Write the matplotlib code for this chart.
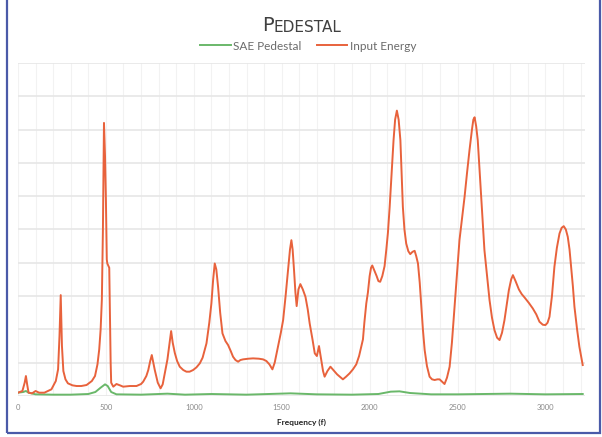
import numpy as np
import matplotlib
matplotlib.use('Agg')
import matplotlib.pyplot as plt
from matplotlib.patches import Rectangle

# ..::Dados::.. (unidades arbitrarias no eixo y)
freqEnergia = [0, 25, 38, 45, 52, 60, 80, 100, 120, 150, 190, 215, 228, 236, 243, 250, 258, 270, 284,
               310, 333, 360, 390, 420, 438, 452, 462, 470, 477, 483, 489, 495, 500, 505, 508, 515, 519,
               523, 527, 530, 542, 560, 580, 598, 636, 674, 700, 712, 730, 741, 752, 761, 770, 778, 795,
               811, 823, 835, 850, 862, 871, 880, 892, 905, 920, 940, 958, 976, 996, 1015, 1034, 1050,
               1072, 1088, 1100, 1110, 1119, 1128, 1138, 1150, 1163, 1180, 1195, 1210, 1223, 1237, 1252,
               1265, 1280, 1310, 1337, 1370, 1394, 1413, 1430, 1447, 1460, 1479, 1495, 1508, 1522, 1536,
               1547, 1555, 1562, 1570, 1578, 1585, 1595, 1606, 1620, 1635, 1648, 1659, 1675, 1688, 1700,
               1706, 1712, 1718, 1725, 1735, 1744, 1760, 1777, 1790, 1801, 1815, 1830, 1848, 1866, 1886,
               1905, 1924, 1940, 1953, 1962, 1970, 1981, 1990, 2000, 2008, 2015, 2028, 2040, 2050, 2060,
               2072, 2085, 2095, 2104, 2114, 2125, 2136, 2145, 2155, 2165, 2175, 2182, 2189, 2198, 2208,
               2220, 2231, 2244, 2256, 2265, 2275, 2285, 2294, 2303, 2313, 2326, 2341, 2355, 2370, 2385,
               2398, 2412, 2426, 2440, 2455, 2468, 2483, 2497, 2511, 2525, 2540, 2554, 2568, 2582, 2590,
               2597, 2606, 2615, 2625, 2635, 2644, 2653, 2668, 2682, 2696, 2710, 2725, 2739, 2753, 2767,
               2780, 2792, 2805, 2815, 2830, 2849, 2865, 2881, 2905, 2928, 2948, 2966, 2985, 3000, 3012,
               3023, 3037, 3051, 3065, 3080, 3092, 3104, 3116, 3127, 3137, 3146, 3156, 3165, 3180, 3193,
               3212]
valEnergia = [0.10, 0.15, 0.40, 0.60, 0.35, 0.10, 0.08, 0.15, 0.10, 0.10, 0.20, 0.45, 0.80, 1.80, 3.03,
              1.50, 0.75, 0.50, 0.38, 0.32, 0.30, 0.30, 0.33, 0.45, 0.60, 0.95, 1.40, 2.00, 2.90, 5.00,
              8.20, 7.20, 5.90, 4.10, 3.98, 3.90, 3.85, 2.50, 1.00, 0.40, 0.28, 0.36, 0.32, 0.28, 0.30,
              0.30, 0.36, 0.43, 0.60, 0.78, 1.05, 1.23, 1.00, 0.78, 0.40, 0.23, 0.35, 0.69, 1.10, 1.60,
              1.95, 1.60, 1.29, 1.05, 0.88, 0.78, 0.73, 0.73, 0.78, 0.86, 0.98, 1.15, 1.58, 2.20, 2.78,
              3.50, 3.98, 3.80, 3.28, 2.50, 1.88, 1.65, 1.53, 1.35, 1.18, 1.08, 1.03, 1.08, 1.10, 1.12,
              1.13, 1.12, 1.10, 1.05, 0.95, 0.80, 1.00, 1.48, 1.90, 2.28, 3.00, 3.78, 4.40, 4.68, 4.40,
              3.78, 3.10, 2.70, 3.20, 3.36, 3.20, 2.98, 2.60, 2.18, 1.70, 1.28, 1.20, 1.35, 1.50, 1.30,
              1.08, 0.75, 0.58, 0.75, 0.88, 0.80, 0.73, 0.65, 0.58, 0.50, 0.58, 0.68, 0.80, 0.95, 1.20,
              1.50, 1.70, 2.20, 2.78, 3.10, 3.60, 3.85, 3.92, 3.75, 3.60, 3.45, 3.43, 3.60, 3.90, 4.40,
              4.90, 5.68, 6.70, 7.68, 8.30, 8.57, 8.30, 7.68, 6.70, 5.68, 5.00, 4.58, 4.35, 4.26, 4.33,
              4.36, 4.20, 3.98, 3.40, 2.68, 2.00, 1.38, 0.90, 0.58, 0.50, 0.48, 0.50, 0.50, 0.43, 0.36,
              0.55, 0.88, 1.60, 2.68, 3.70, 4.68, 5.30, 5.98, 6.70, 7.38, 8.00, 8.30, 8.37, 8.10, 7.68,
              6.80, 5.88, 5.10, 4.38, 3.60, 2.88, 2.35, 1.98, 1.75, 1.68, 1.90, 2.28, 2.75, 3.18, 3.50,
              3.63, 3.45, 3.20, 3.06, 2.96, 2.80, 2.63, 2.45, 2.23, 2.14, 2.13, 2.20, 2.38, 3.00, 3.88,
              4.45, 4.88, 5.05, 5.10, 5.00, 4.78, 4.40, 3.88, 3.30, 2.68, 2.00, 1.48, 0.93]

freqPedestal = [0, 30, 45, 60, 100, 200, 300, 400, 440, 470, 495, 510, 530, 560, 700, 850, 950, 1100,
                1300, 1550, 1700, 1900, 2050, 2120, 2170, 2230, 2350, 2500, 2800, 3000, 3212]
valPedestal = [0.10, 0.12, 0.15, 0.10, 0.05, 0.04, 0.04, 0.06, 0.12, 0.25, 0.35, 0.30, 0.12, 0.05, 0.04,
               0.07, 0.04, 0.06, 0.04, 0.08, 0.05, 0.04, 0.06, 0.13, 0.14, 0.09, 0.05, 0.05, 0.07, 0.05,
               0.06]

xticksVal = [0, 500, 1000, 1500, 2000, 2500, 3000]

# ..::Grafico::..
fig = plt.figure(figsize=(6.02, 4.37), dpi=100)
ax = fig.add_axes([18/602, 1-396/437, (585-18)/602, (396-63)/437])

ax.set_xlim(0, 3225)
ax.set_ylim(0, 10)

# grade
for gx in np.arange(0, 3300, 100):
	ax.axvline(gx, color='#f2f2f2', lw=0.8, zorder=0)
for gy in range(0, 11):
	ax.axhline(gy, color='#e6e6e6', lw=1.2, zorder=0)

ax.plot(freqPedestal, valPedestal, color='#6ab86a', lw=1.4, label='SAE Pedestal', zorder=3)
ax.plot(freqEnergia, valEnergia, color='#e8623c', lw=1.4, label='Input Energy', zorder=4)

for s in ax.spines.values():
	s.set_visible(False)
ax.set_yticks([])
ax.set_xticks(xticksVal)
ax.set_xticklabels([str(v) for v in xticksVal], fontsize=5.5, color='#8a8a8a', family='Lato')
ax.tick_params(axis='x', length=0, pad=6)
ax.set_xlabel('Frequency (f)', fontsize=6, fontweight='bold', color='#222222', labelpad=5, family='Lato')

# titulo em versalete (P maiusculo + restante menor)
t1 = fig.text(262/602, 1-35/437, 'P', fontsize=14, color='#404040', ha='left', va='bottom',
              family='DejaVu Sans')
ax.annotate('EDESTAL', xy=(1, 0), xycoords=t1, fontsize=11, color='#404040', ha='left', va='bottom',
            family='DejaVu Sans', annotation_clip=False)

leg = fig.legend(loc='center', bbox_to_anchor=(308/602, 1-46/437), ncol=2, frameon=False,
                 prop={'family': 'Lato', 'size': 8.5}, handlelength=2.6, handletextpad=0.2,
                 columnspacing=1.3)
for txt in leg.get_texts():
	txt.set_color('#6b6b6b')

# moldura
fig.patches.append(Rectangle((7/602, 1-433/437), (600-7)/602, 433/437+0.05, transform=fig.transFigure,
                             fill=False, edgecolor='#4a5aa8', lw=1.6, zorder=10))

plt.savefig('out.png', dpi=100)
